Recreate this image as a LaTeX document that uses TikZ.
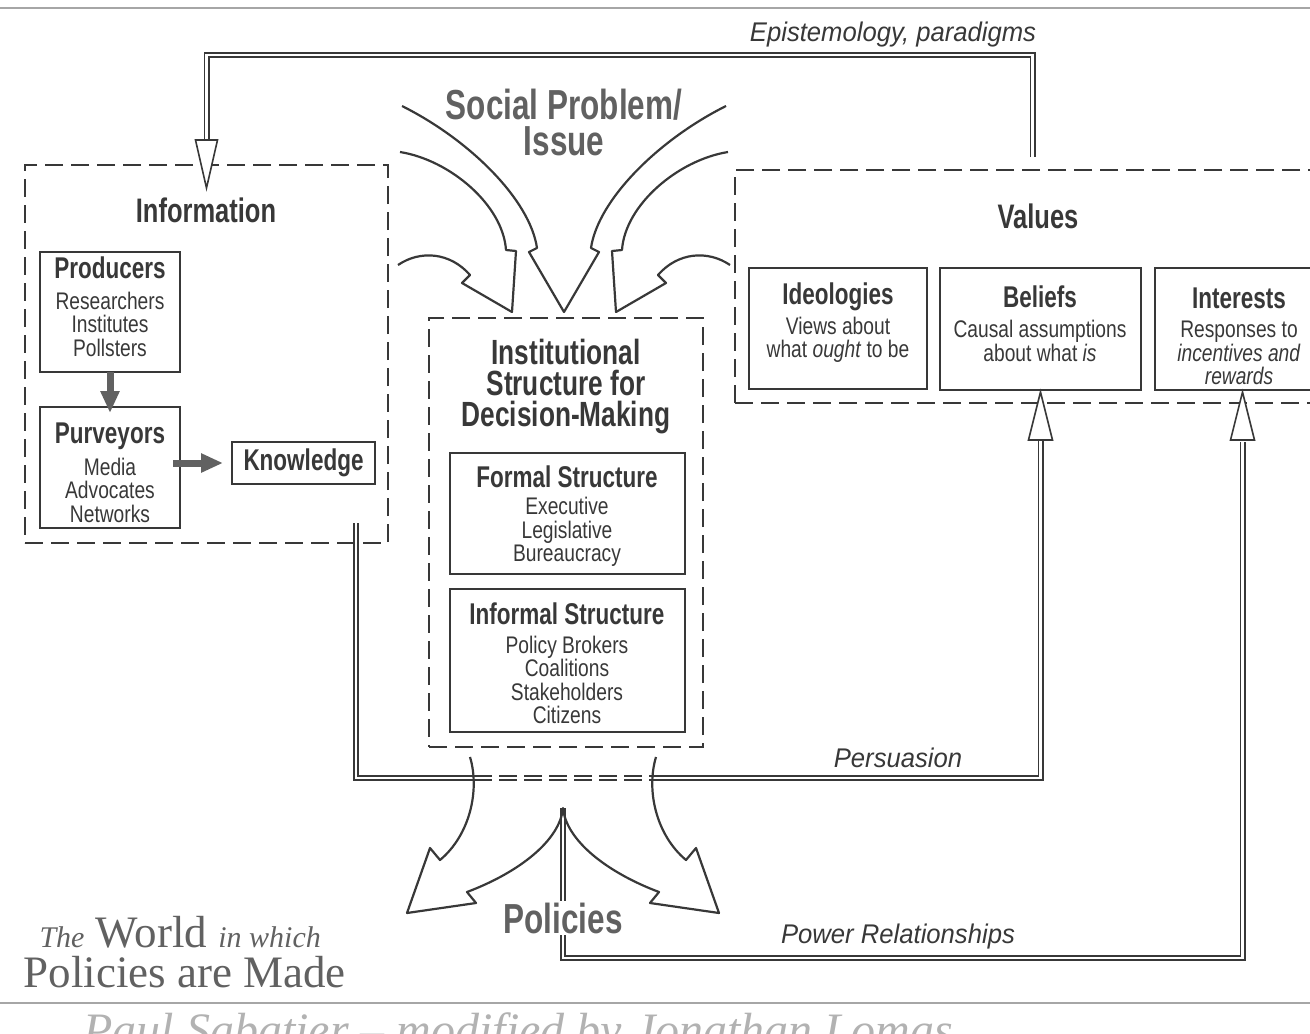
\documentclass[tikz,border=0pt]{standalone}
\usepackage{fontspec}
\setmainfont{Liberation Sans}
\newfontfamily\condfont{Liberation Sans}[FakeStretch=0.8]
\newfontfamily\headfont{Liberation Sans}[FakeStretch=0.75]
\newfontfamily\notefont{Liberation Sans}[FakeStretch=0.95]
\newfontfamily\titlefont{Liberation Serif}
\usepackage{tikz}
\usetikzlibrary{arrows.meta}
\definecolor{ink}{gray}{0.22}
\definecolor{inkfaint}{gray}{0.38}

\begin{document}
\begin{tikzpicture}[x=1pt,y=-1pt,
  box/.style={rectangle,draw=ink,line width=2.4pt,inner sep=0pt,outer sep=0pt},
  dash box/.style={rectangle,draw=ink,line width=1.9pt,dash pattern=on 18pt off 8pt,inner sep=0pt,outer sep=0pt},
  head text/.style={text=ink,font=\headfont\bfseries\fontsize{30}{30}\selectfont},
  main text/.style={text=ink,font=\headfont\bfseries\fontsize{34}{31}\selectfont,align=center},
  body text/.style={text=ink,align=center,font=\condfont\fontsize{24}{23.5}\selectfont},
  big text/.style={text=inkfaint,align=center,font=\headfont\bfseries\fontsize{42}{36}\selectfont},
  note text/.style={text=ink,font=\notefont\itshape\fontsize{27}{27}\selectfont},
  double line/.style={draw=ink,line width=1.6pt,double=white,double distance=2.8pt,line join=miter},
  open head/.style={draw=ink,line width=1.6pt,fill=white,line join=miter},
  ribbon/.style={draw=ink,line width=2.2pt,line join=round},
  fat arrow/.style={draw=inkfaint,line width=7pt,-{Triangle[length=22pt,width=18pt]}},
  rule line/.style={draw=gray!70,line width=1.4pt}]

  \useasboundingbox (0,0) rectangle (1310,1034);
  \draw[rule line] (0,8) -- (1310,8);
  \draw[rule line] (0,1003) -- (1310,1003);

  \node[dash box, minimum width=363pt, minimum height=378pt] (info) at (206.5,354) {};
  \node[dash box, minimum width=274pt, minimum height=429pt] (inst) at (566,532.5) {};
  \node[dash box, minimum width=595pt, minimum height=233pt] (values) at (1032.5,286.5) {};

  \node[box, minimum width=140pt, minimum height=120pt] (prod) at (110,312) {};
  \node[box, minimum width=140pt, minimum height=121pt] (purv) at (110,467.5) {};
  \node[box, head text, minimum width=143pt, minimum height=42pt] (know) at (303.5,463) {Knowledge};
  \node[box, minimum width=235pt, minimum height=121pt] (formal) at (567.5,513.5) {};
  \node[box, minimum width=235pt, minimum height=143pt] (informal) at (567.5,660.5) {};
  \node[box, minimum width=178pt, minimum height=121pt] (ideo) at (838,328.5) {};
  \node[box, minimum width=201pt, minimum height=122pt] (beliefs) at (1040.5,329) {};
  \node[box, minimum width=175pt, minimum height=122pt] (interests) at (1242.5,329) {};

  \node[main text] (info title) at (206,210) {Information};
  \node[head text] (prod title) at (110,268) {Producers};
  \node[body text] (prod list) at (110,324) {Researchers\\Institutes\\Pollsters};
  \node[head text] (purv title) at (110,436) {Purveyors};
  \node[body text] (purv list) at (110,490) {Media\\Advocates\\Networks};

  \node[main text, font=\headfont\bfseries\fontsize{35}{31}\selectfont] (inst title) at (566,387) {Institutional\\Structure for\\Decision-Making};
  \node[head text] (formal title) at (567,477) {Formal Structure};
  \node[body text] (formal list) at (567,532) {Executive\\Legislative\\Bureaucracy};
  \node[head text] (informal title) at (567,614) {Informal Structure};
  \node[body text] (informal list) at (567,680) {Policy Brokers\\Coalitions\\Stakeholders\\Citizens};

  \node[main text] (values title) at (1038,216) {Values};
  \node[head text] (ideo title) at (838,297) {Ideologies};
  \node[body text] (ideo list) at (838,340) {Views about\\what \emph{ought} to be};
  \node[head text] (beliefs title) at (1040,297) {Beliefs};
  \node[body text] (beliefs list) at (1040,341) {Causal assumptions\\about what \emph{is}};
  \node[head text] (interests title) at (1239,298) {Interests};
  \node[body text] (interests list) at (1239,353) {Responses to\\\emph{incentives and}\\\emph{rewards}};

  \node[big text] (social) at (564,122) {Social Problem/\\Issue};
  \node[note text] (episteme) at (893,35) {Epistemology, paradigms};
  \node[note text] (persuasion) at (898,758) {Persuasion};
  \node[note text] (power) at (898,937) {Power Relationships};

  \node[anchor=base west, text=inkfaint] (world) at (36,947)
    {\titlefont\fontsize{45}{45}\selectfont{\itshape\fontsize{30}{30}\selectfont The} World {\itshape\fontsize{30}{30}\selectfont in which}};
  \node[anchor=base west, text=inkfaint] (made) at (20,987)
    {\titlefont\fontsize{45}{45}\selectfont Policies are Made};
  \node[anchor=base west, text=gray!60] (signed) at (80,1046)
    {\titlefont\itshape\fontsize{48}{48}\selectfont Paul Sabatier – modified by Jonathan Lomas};

  \draw[fat arrow, shorten >=-6pt] (prod.south) -- (purv.north);
  \draw[fat arrow, shorten <=-7pt, shorten >=9pt] (purv.east |- know.west) -- (know.west);

  \draw[double line] ([yshift=13pt]values.north) -- ++(0,-102) -| ([yshift=25pt]info.north);
  \draw[open head] ([yshift=-23pt]info.north) -- ++(-11,-48) -- ++(22,0) -- cycle;

  \coordinate (pers start) at (356,523);
  \coordinate (pers left) at (474,778);
  \coordinate (pers right) at (652,778);
  \draw[double line] (pers start) |- (pers left);
  \draw[double line, dash pattern=on 18pt off 7pt] (pers left) -- (pers right);
  \draw[double line] (pers right) -| ([yshift=-50pt]beliefs.south);
  \draw[open head] ([yshift=-2pt]beliefs.south) -- ++(-12,48) -- ++(24,0) -- cycle;

  \coordinate (fork) at (563,808);
  \coordinate (power corner) at (563,958);
  \draw[double line] (fork) -- (power corner) -| ([yshift=-52pt]interests.south);
  \draw[open head] ([yshift=-2pt]interests.south) -- ++(-12,48) -- ++(24,0) -- cycle;

  \draw[ribbon] (402,106) .. controls (470,140) and (530,200) .. (537,248) -- (529,252) -- (564,312)
    -- (599,252) -- (591,248) .. controls (598,200) and (658,140) .. (726,106);
  \draw[ribbon] (400,152) .. controls (450,160) and (503,205) .. (506,250) -- (516,251) -- (512,312)
    -- (462,283) -- (470,275) .. controls (450,252) and (420,250) .. (398,265);
  \draw[ribbon] (728,152) .. controls (678,160) and (625,205) .. (622,250) -- (612,251) -- (616,312)
    -- (666,283) -- (658,275) .. controls (678,252) and (708,250) .. (730,265);
  \draw[ribbon] (470,757) .. controls (480,790) and (470,835) .. (440,860) -- (430,848) -- (407,913)
    -- (476,903) -- (467,892) .. controls (520,872) and (560,840) .. (fork)
    .. controls (566,840) and (606,872) .. (659,892) -- (650,903) -- (719,913)
    -- (696,848) -- (686,860) .. controls (656,835) and (646,790) .. (656,757);

  \node[big text, fill=white, inner sep=2pt] (policies) at (563,918) {Policies};
\end{tikzpicture}
\end{document}
